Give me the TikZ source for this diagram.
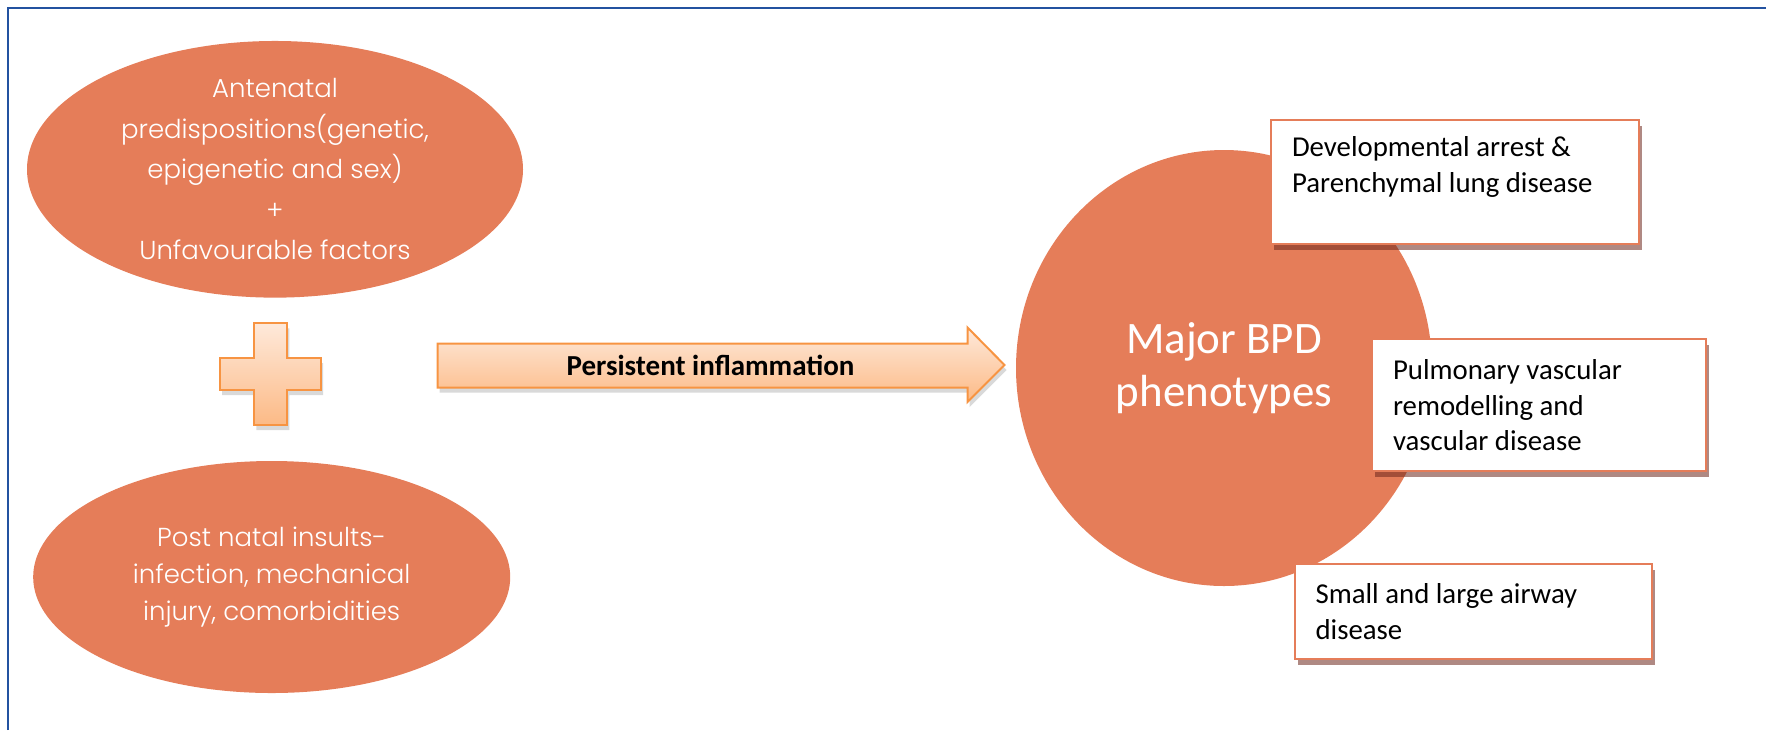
\documentclass[tikz,border=0pt]{standalone}
\usepackage{fontspec}
\setmainfont{Carlito}
\newfontfamily\roundfont{Poppins Light}
\usetikzlibrary{shapes.geometric,shadows}
\definecolor{bpdorange}{RGB}{229,125,89}
\definecolor{frameblue}{RGB}{35,82,160}
\definecolor{peachtop}{RGB}{254,233,218}
\definecolor{peachbot}{RGB}{252,186,134}
\definecolor{peachline}{RGB}{247,148,66}
\definecolor{boxshadow}{RGB}{110,40,30}
\begin{document}
\begin{tikzpicture}[x=.5pt,y=-.5pt,
  cause/.style={ellipse,fill=bpdorange,inner sep=0pt,text=white,align=center},
  phenobox/.style={draw=bpdorange,line width=1pt,fill=white,anchor=north west,
    inner xsep=10.5pt,inner ysep=0pt,font=\fontsize{14.4}{17.75}\selectfont,
    execute at begin node={\spaceskip=.226em\relax},
    drop shadow={shadow xshift=1.5pt,shadow yshift=-3pt,fill=boxshadow,opacity=.55}},
  peach/.style={draw=peachline,line width=1pt,top color=peachtop,bottom color=peachbot,
    drop shadow={shadow xshift=1pt,shadow yshift=-2.5pt,fill=black!50,opacity=.3}}]
  \useasboundingbox (0,0) rectangle (1766,730);
  \draw[frameblue,line width=1.2pt] (8,730) -- (8,8) -- (1766,8);

  % causes on the left
  \node[cause,minimum width=248pt,minimum height=116pt,
    font=\roundfont\fontsize{13}{20.25}\selectfont] (antenatal) at (275,169.3)
    {Antenatal\\predispositions(genetic,\\epigenetic and sex)\\+\\Unfavourable factors};
  \node[cause,minimum width=238.5pt,minimum height=116pt,
    font=\roundfont\fontsize{13}{18.35}\selectfont] (postnatal) at (271.7,577)
    {Post natal insults-\\infection, mechanical\\injury, comorbidities};
  \draw[peach] (254.3,323.3) -- (287.3,323.3) -- (287.3,358) -- (321,358) -- (321,390)
    -- (287.3,390) -- (287.3,425) -- (254.3,425) -- (254.3,390) -- (220,390)
    -- (220,358) -- (254.3,358) -- cycle;

  % block arrow
  \draw[peach] (437.5,343.5) -- (967.5,343.5) -- (967.5,327.5) -- (1004.5,365)
    -- (967.5,402) -- (967.5,387.5) -- (437.5,387.5) -- cycle;
  \node[font=\bfseries\fontsize{14.5}{17}\selectfont] (inflam) at (710.5,365.5)
    {Persistent inflammation};

  % phenotypes
  \node[cause,minimum width=208pt,minimum height=218pt,
    font=\fontsize{22.5}{26.5}\selectfont] (bpd) at (1224,368) {Major BPD\\phenotypes};
  \node[phenobox,text width=162.85pt,minimum height=62.15pt] (arrest) at (1270,119)
    {Developmental arrest \&\\Parenchymal lung disease\\\mbox{}};
  \node[phenobox,text width=146.15pt,minimum height=65.85pt] (vascular) at (1371,338.3)
    {Pulmonary vascular\\remodelling and\\vascular disease};
  \node[phenobox,text width=157.7pt,minimum height=47.2pt] (airway) at (1293.6,563.3)
    {Small and large airway\\disease};
\end{tikzpicture}
\end{document}
